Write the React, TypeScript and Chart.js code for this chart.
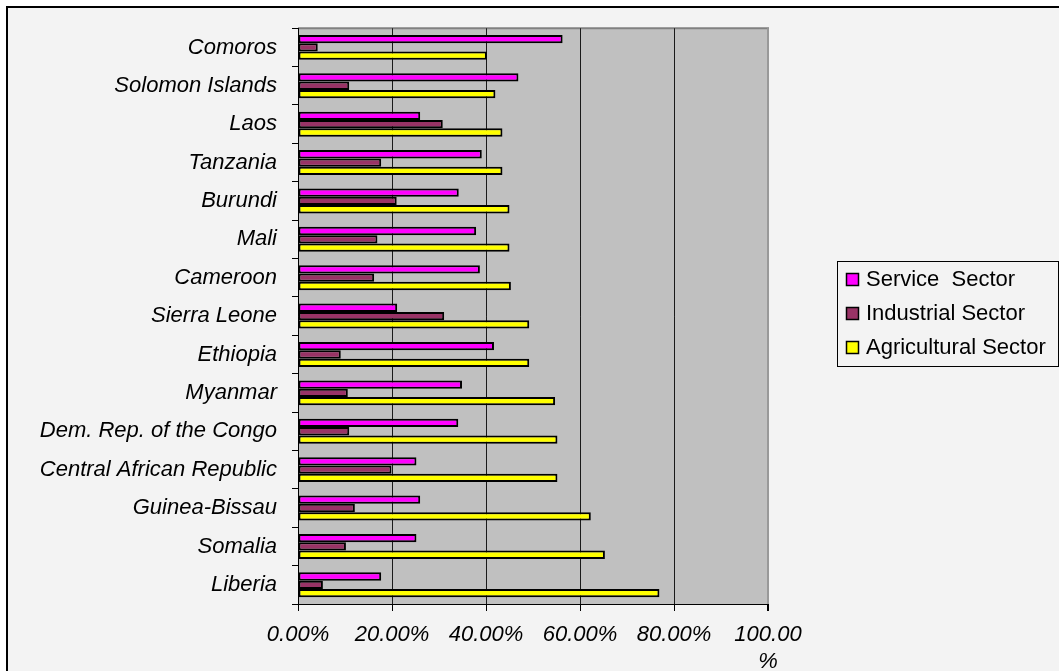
import React, { useEffect, useRef } from "react";
import { Chart, registerables } from "chart.js";

Chart.register(...registerables);

const categories = [
  "Comoros",
  "Solomon Islands",
  "Laos",
  "Tanzania",
  "Burundi",
  "Mali",
  "Cameroon",
  "Sierra Leone",
  "Ethiopia",
  "Myanmar",
  "Dem. Rep. of the Congo",
  "Central African Republic",
  "Guinea-Bissau",
  "Somalia",
  "Liberia",
];

const serviceSector = [56.3, 46.9, 26.0, 39.1, 34.2, 37.9, 38.7, 21.1, 41.7, 34.9, 34.1, 25.2, 26.0, 25.2, 17.7];
const industrialSector = [4.2, 10.9, 30.8, 17.7, 21.0, 16.9, 16.2, 31.1, 9.1, 10.6, 10.9, 19.9, 12.1, 10.2, 5.3];
const agriculturalSector = [40.2, 42.0, 43.5, 43.5, 45.0, 45.0, 45.3, 49.2, 49.2, 54.7, 55.2, 55.2, 62.3, 65.3, 76.9];

const seriesNames = ["Service  Sector", "Industrial Sector", "Agricultural Sector"];
const seriesColors = ["#ff00ff", "#993366", "#ffff00"];

const xTickLabels: (string | string[])[] = ["0.00%", "20.00%", "40.00%", "60.00%", "80.00%", ["100.00", "%"]];

const FONT = '"Liberation Sans", Arial, sans-serif';
const FONT_SIZE = 22;

export default function App() {
  const ref = useRef<HTMLCanvasElement>(null);

  useEffect(() => {
    if (!ref.current) return;

    const plotBg = {
      id: "plotBg",
      beforeDraw(chart: any) {
        const { ctx, chartArea: a } = chart;
        ctx.save();
        ctx.fillStyle = "#c0c0c0";
        ctx.fillRect(a.left, a.top, a.right - a.left, a.bottom - a.top);
        ctx.strokeStyle = "#808080";
        ctx.lineWidth = 2;
        ctx.beginPath();
        ctx.moveTo(a.left, a.top);
        ctx.lineTo(a.right + 1, a.top);
        ctx.stroke();
        ctx.restore();
      },
    };

    const boxedLegend = {
      id: "boxedLegend",
      afterDraw(chart: any) {
        const { ctx } = chart;
        const bx = 837;
        const by = 261;
        const bw = 221;
        const bh = 105;
        ctx.save();
        ctx.strokeStyle = "#000";
        ctx.lineWidth = 1;
        ctx.strokeRect(bx + 0.5, by + 0.5, bw, bh);
        ctx.font = `${FONT_SIZE}px ${FONT}`;
        ctx.textBaseline = "middle";
        ctx.textAlign = "left";
        chart.data.datasets.forEach((ds: any, i: number) => {
          const cy = by + 18 + i * 34;
          ctx.fillStyle = ds.backgroundColor;
          ctx.fillRect(846, cy - 6, 13, 13);
          ctx.strokeStyle = "#000";
          ctx.lineWidth = 1.5;
          ctx.strokeRect(846.5, cy - 5.5, 12, 12);
          ctx.fillStyle = "#000";
          ctx.fillText(ds.label, 866, cy + 1);
        });
        ctx.restore();
      },
    };

    const data = {
      labels: categories,
      datasets: [serviceSector, industrialSector, agriculturalSector].map((vals, i) => ({
        label: seriesNames[i],
        data: vals,
        backgroundColor: seriesColors[i],
        borderColor: "#000",
        borderWidth: 2,
        borderSkipped: false,
        categoryPercentage: 0.65,
        barPercentage: 1.0,
      })),
    };

    const chart = new Chart(ref.current, {
      type: "bar",
      data,
      plugins: [plotBg, boxedLegend],
      options: {
        indexAxis: "y",
        responsive: false,
        animation: false,
        layout: { padding: { left: 0, top: 24, right: 291, bottom: 0 } },
        plugins: {
          legend: { display: false },
          tooltip: { enabled: false },
        },
        scales: {
          x: {
            min: 0,
            max: 100,
            afterFit(scale: any) {
              scale.height = 67;
            },
            ticks: {
              stepSize: 20,
              autoSkip: false,
              maxRotation: 0,
              minRotation: 0,
              padding: 11,
              color: "#000",
              font: { family: FONT, size: FONT_SIZE, style: "italic", lineHeight: 1.21 },
              callback: (_v: any, i: number) => xTickLabels[i],
            },
            grid: {
              color: (c: any) => (c.index === 5 ? "#999999" : "#1a1a1a"),
              lineWidth: (c: any) => (c.index === 5 ? 2 : 1),
              tickColor: "#000",
              tickLength: 7,
              drawTicks: true,
            },
            border: { display: true, color: "#000", width: 1 },
          },
          y: {
            afterFit(scale: any) {
              scale.width = 298;
            },
            ticks: {
              padding: 15,
              autoSkip: false,
              color: "#000",
              font: { family: FONT, size: FONT_SIZE, style: "italic" },
            },
            grid: {
              offset: true,
              drawOnChartArea: false,
              drawTicks: true,
              tickLength: 6,
              tickColor: "#000",
            },
            border: { display: true, color: "#000", width: 1 },
          },
        },
      } as any,
    });

    return () => chart.destroy();
  }, []);

  return (
    <div
      style={{
        position: "fixed",
        left: 0,
        top: 0,
        width: 1059,
        height: 671,
        overflow: "hidden",
        background: "#ffffff",
      }}
    >
      <div
        style={{
          position: "absolute",
          left: 6,
          top: 6,
          width: 1100,
          height: 720,
          border: "2px solid #000",
          background: "#f3f3f3",
        }}
      />
      <canvas
        ref={ref}
        width={1059}
        height={671}
        style={{ position: "absolute", left: 0, top: 0, width: 1059, height: 671 }}
      />
    </div>
  );
}
